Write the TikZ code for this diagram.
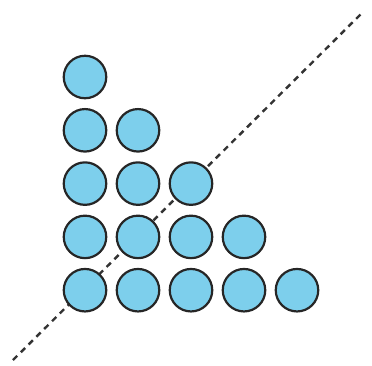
\documentclass[tikz,border=0pt]{standalone}
\begin{document}
\begin{tikzpicture}[x=1pt,y=-1pt,
  ball/.style={circle,draw=black!85,line width=2.2pt,fill=dotblue,minimum size=42.5pt,inner sep=0pt},
  diag/.style={draw=black!80,line width=2.4pt,dash pattern=on 6pt off 5pt}]
\definecolor{dotblue}{HTML}{7DCFEC}
\useasboundingbox (0,0) rectangle (372,365);
\coordinate (lo) at (13,360);
\coordinate (hi) at (363,12);
\draw[diag] (lo) -- (hi);
\foreach \r in {1,...,5}{
  \foreach \c in {1,...,\r}{
    \node[ball] (b\r\c) at ({85+53*(\c-1)},{77+53.3*(\r-1)}) {};
  }
}
\end{tikzpicture}
\end{document}
